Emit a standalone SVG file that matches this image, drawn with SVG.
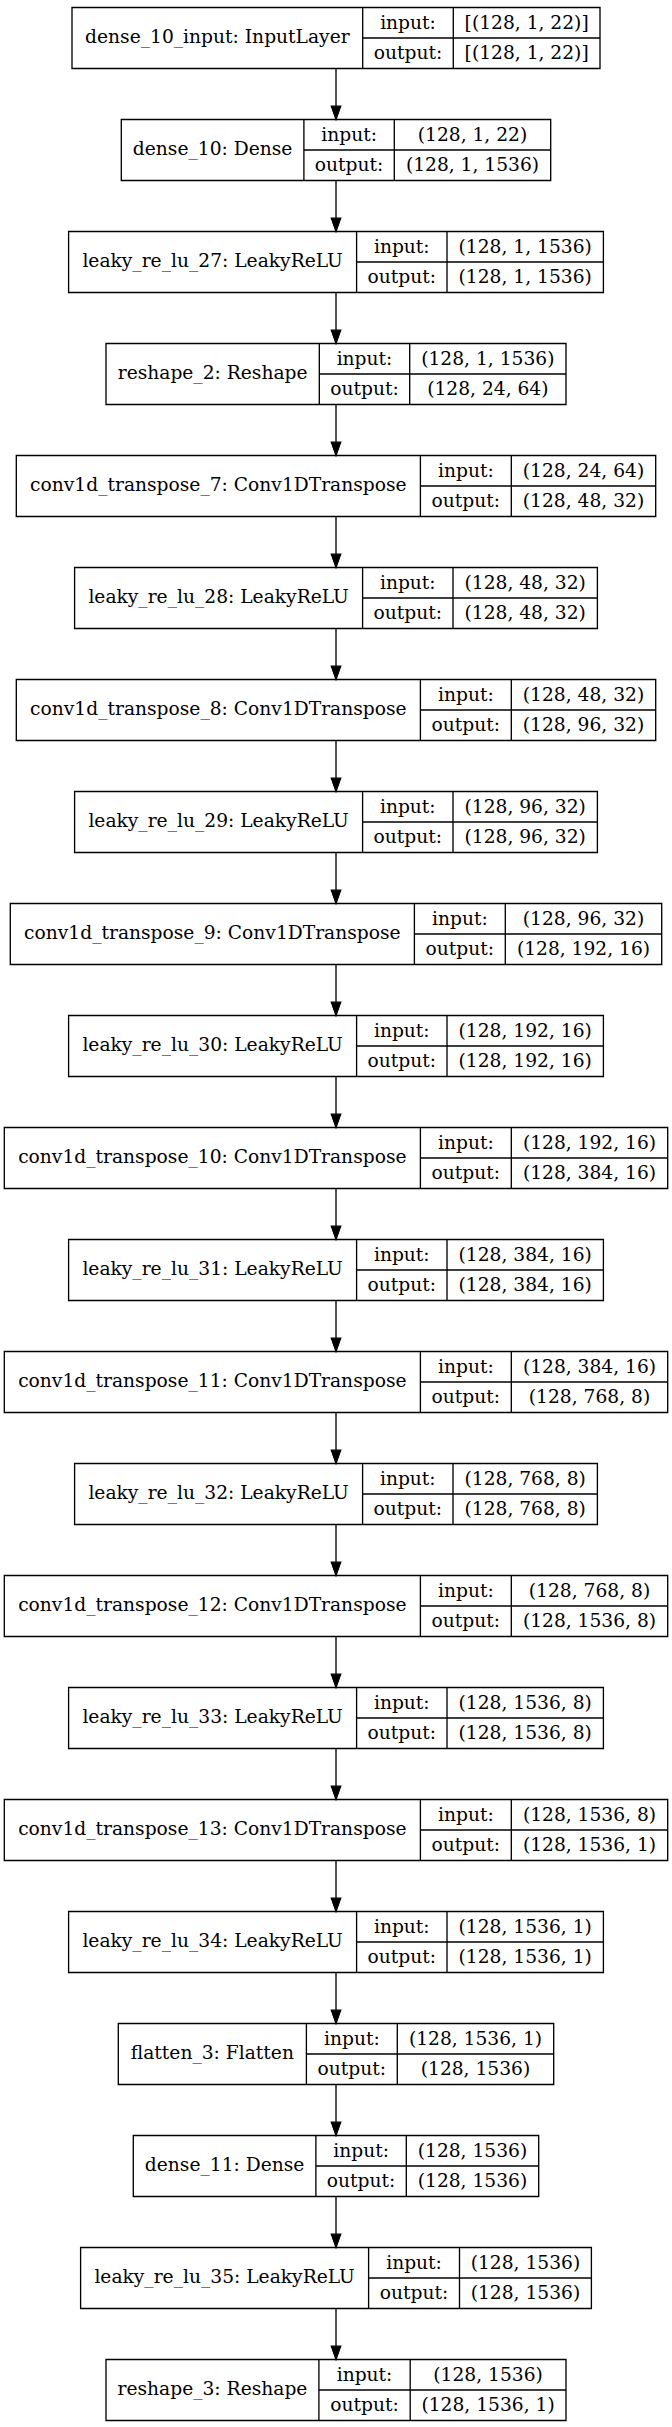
<svg xmlns="http://www.w3.org/2000/svg" width="672" height="2427" viewBox="0 0 672 2427">
<style>
.b{fill:none;stroke:#000;stroke-width:1.33}
text{font-family:"DejaVu Serif","Liberation Serif",serif;font-size:18.67px;fill:#000;text-anchor:middle}
.e{stroke:#000;stroke-width:1.33;fill:none}
</style>
<defs>
<marker id="arr" markerUnits="userSpaceOnUse" markerWidth="14" markerHeight="10" refX="0" refY="4.67" orient="auto" overflow="visible">
<path d="M0,0 L13.3,4.67 L0,9.33 Z" fill="#000" stroke="#000" stroke-width="1.33"/>
</marker>
</defs>
<rect width="672" height="2427" fill="#fff"/>
<g id="connectors">
<line class="e" x1="336" y1="68.5" x2="336" y2="106.2" marker-end="url(#arr)"/>
<line class="e" x1="336" y1="180.5" x2="336" y2="218.2" marker-end="url(#arr)"/>
<line class="e" x1="336" y1="292.5" x2="336" y2="330.2" marker-end="url(#arr)"/>
<line class="e" x1="336" y1="404.5" x2="336" y2="442.2" marker-end="url(#arr)"/>
<line class="e" x1="336" y1="516.5" x2="336" y2="554.2" marker-end="url(#arr)"/>
<line class="e" x1="336" y1="628.5" x2="336" y2="666.2" marker-end="url(#arr)"/>
<line class="e" x1="336" y1="740.5" x2="336" y2="778.2" marker-end="url(#arr)"/>
<line class="e" x1="336" y1="852.5" x2="336" y2="890.2" marker-end="url(#arr)"/>
<line class="e" x1="336" y1="964.5" x2="336" y2="1002.2" marker-end="url(#arr)"/>
<line class="e" x1="336" y1="1076.5" x2="336" y2="1114.2" marker-end="url(#arr)"/>
<line class="e" x1="336" y1="1188.5" x2="336" y2="1226.2" marker-end="url(#arr)"/>
<line class="e" x1="336" y1="1300.5" x2="336" y2="1338.2" marker-end="url(#arr)"/>
<line class="e" x1="336" y1="1412.5" x2="336" y2="1450.2" marker-end="url(#arr)"/>
<line class="e" x1="336" y1="1524.5" x2="336" y2="1562.2" marker-end="url(#arr)"/>
<line class="e" x1="336" y1="1636.5" x2="336" y2="1674.2" marker-end="url(#arr)"/>
<line class="e" x1="336" y1="1748.5" x2="336" y2="1786.2" marker-end="url(#arr)"/>
<line class="e" x1="336" y1="1860.5" x2="336" y2="1898.2" marker-end="url(#arr)"/>
<line class="e" x1="336" y1="1972.5" x2="336" y2="2010.2" marker-end="url(#arr)"/>
<line class="e" x1="336" y1="2084.5" x2="336" y2="2122.2" marker-end="url(#arr)"/>
<line class="e" x1="336" y1="2196.5" x2="336" y2="2234.2" marker-end="url(#arr)"/>
<line class="e" x1="336" y1="2308.5" x2="336" y2="2346.2" marker-end="url(#arr)"/>
</g>
<g id="n1">
<path class="b" d="M72,7.5 H600 V68.5 H72 Z M362.7,7.5 V68.5 M453.3,7.5 V68.5 M362.7,38 H600"/>
<text x="217.35" y="43">dense_10_input: InputLayer</text>
<text x="408" y="28.5">input:</text>
<text x="526.65" y="59">[(128, 1, 22)]</text>
<text x="408" y="59">output:</text>
<text x="526.65" y="28.5">[(128, 1, 22)]</text>
</g>
<g id="n2">
<path class="b" d="M121.3,119.5 H550.7 V180.5 H121.3 Z M303.9,119.5 V180.5 M394.3,119.5 V180.5 M303.9,150 H550.7"/>
<text x="212.6" y="155">dense_10: Dense</text>
<text x="349.1" y="140.5">input:</text>
<text x="472.5" y="140.5">(128, 1, 22)</text>
<text x="349.1" y="171">output:</text>
<text x="472.5" y="171">(128, 1, 1536)</text>
</g>
<g id="n3">
<path class="b" d="M68.6,231.5 H603.4 V292.5 H68.6 Z M356.6,231.5 V292.5 M447,231.5 V292.5 M356.6,262 H603.4"/>
<text x="212.6" y="267">leaky_re_lu_27: LeakyReLU</text>
<text x="401.8" y="252.5">input:</text>
<text x="525.2" y="252.5">(128, 1, 1536)</text>
<text x="401.8" y="283">output:</text>
<text x="525.2" y="283">(128, 1, 1536)</text>
</g>
<g id="n4">
<path class="b" d="M106,343.5 H566 V404.5 H106 Z M319.3,343.5 V404.5 M409.7,343.5 V404.5 M319.3,374 H566"/>
<text x="212.65" y="379">reshape_2: Reshape</text>
<text x="364.5" y="364.5">input:</text>
<text x="487.85" y="364.5">(128, 1, 1536)</text>
<text x="364.5" y="395">output:</text>
<text x="487.85" y="395">(128, 24, 64)</text>
</g>
<g id="n5">
<path class="b" d="M16.3,455.5 H655.7 V516.5 H16.3 Z M420.4,455.5 V516.5 M511.3,455.5 V516.5 M420.4,486 H655.7"/>
<text x="218.35" y="491">conv1d_transpose_7: Conv1DTranspose</text>
<text x="465.85" y="476.5">input:</text>
<text x="583.5" y="476.5">(128, 24, 64)</text>
<text x="465.85" y="507">output:</text>
<text x="583.5" y="507">(128, 48, 32)</text>
</g>
<g id="n6">
<path class="b" d="M74.6,567.5 H597.4 V628.5 H74.6 Z M362.6,567.5 V628.5 M453,567.5 V628.5 M362.6,598 H597.4"/>
<text x="218.6" y="603">leaky_re_lu_28: LeakyReLU</text>
<text x="407.8" y="588.5">input:</text>
<text x="525.2" y="588.5">(128, 48, 32)</text>
<text x="407.8" y="619">output:</text>
<text x="525.2" y="619">(128, 48, 32)</text>
</g>
<g id="n7">
<path class="b" d="M16.3,679.5 H655.7 V740.5 H16.3 Z M420.4,679.5 V740.5 M511.3,679.5 V740.5 M420.4,710 H655.7"/>
<text x="218.35" y="715">conv1d_transpose_8: Conv1DTranspose</text>
<text x="465.85" y="700.5">input:</text>
<text x="583.5" y="700.5">(128, 48, 32)</text>
<text x="465.85" y="731">output:</text>
<text x="583.5" y="731">(128, 96, 32)</text>
</g>
<g id="n8">
<path class="b" d="M74.6,791.5 H597.4 V852.5 H74.6 Z M362.6,791.5 V852.5 M453,791.5 V852.5 M362.6,822 H597.4"/>
<text x="218.6" y="827">leaky_re_lu_29: LeakyReLU</text>
<text x="407.8" y="812.5">input:</text>
<text x="525.2" y="812.5">(128, 96, 32)</text>
<text x="407.8" y="843">output:</text>
<text x="525.2" y="843">(128, 96, 32)</text>
</g>
<g id="n9">
<path class="b" d="M10.3,903.5 H661.7 V964.5 H10.3 Z M414.4,903.5 V964.5 M505.3,903.5 V964.5 M414.4,934 H661.7"/>
<text x="212.35" y="939">conv1d_transpose_9: Conv1DTranspose</text>
<text x="459.85" y="924.5">input:</text>
<text x="583.5" y="924.5">(128, 96, 32)</text>
<text x="459.85" y="955">output:</text>
<text x="583.5" y="955">(128, 192, 16)</text>
</g>
<g id="n10">
<path class="b" d="M68.6,1015.5 H603.4 V1076.5 H68.6 Z M356.6,1015.5 V1076.5 M447,1015.5 V1076.5 M356.6,1046 H603.4"/>
<text x="212.6" y="1051">leaky_re_lu_30: LeakyReLU</text>
<text x="401.8" y="1036.5">input:</text>
<text x="525.2" y="1036.5">(128, 192, 16)</text>
<text x="401.8" y="1067">output:</text>
<text x="525.2" y="1067">(128, 192, 16)</text>
</g>
<g id="n11">
<path class="b" d="M4.3,1127.5 H667.7 V1188.5 H4.3 Z M420.4,1127.5 V1188.5 M511.3,1127.5 V1188.5 M420.4,1158 H667.7"/>
<text x="212.35" y="1163">conv1d_transpose_10: Conv1DTranspose</text>
<text x="465.85" y="1148.5">input:</text>
<text x="589.5" y="1148.5">(128, 192, 16)</text>
<text x="465.85" y="1179">output:</text>
<text x="589.5" y="1179">(128, 384, 16)</text>
</g>
<g id="n12">
<path class="b" d="M68.6,1239.5 H603.4 V1300.5 H68.6 Z M356.6,1239.5 V1300.5 M447,1239.5 V1300.5 M356.6,1270 H603.4"/>
<text x="212.6" y="1275">leaky_re_lu_31: LeakyReLU</text>
<text x="401.8" y="1260.5">input:</text>
<text x="525.2" y="1260.5">(128, 384, 16)</text>
<text x="401.8" y="1291">output:</text>
<text x="525.2" y="1291">(128, 384, 16)</text>
</g>
<g id="n13">
<path class="b" d="M4.3,1351.5 H667.7 V1412.5 H4.3 Z M420.4,1351.5 V1412.5 M511.3,1351.5 V1412.5 M420.4,1382 H667.7"/>
<text x="212.35" y="1387">conv1d_transpose_11: Conv1DTranspose</text>
<text x="465.85" y="1372.5">input:</text>
<text x="589.5" y="1372.5">(128, 384, 16)</text>
<text x="465.85" y="1403">output:</text>
<text x="589.5" y="1403">(128, 768, 8)</text>
</g>
<g id="n14">
<path class="b" d="M74.6,1463.5 H597.4 V1524.5 H74.6 Z M362.6,1463.5 V1524.5 M453,1463.5 V1524.5 M362.6,1494 H597.4"/>
<text x="218.6" y="1499">leaky_re_lu_32: LeakyReLU</text>
<text x="407.8" y="1484.5">input:</text>
<text x="525.2" y="1484.5">(128, 768, 8)</text>
<text x="407.8" y="1515">output:</text>
<text x="525.2" y="1515">(128, 768, 8)</text>
</g>
<g id="n15">
<path class="b" d="M4.3,1575.5 H667.7 V1636.5 H4.3 Z M420.4,1575.5 V1636.5 M511.3,1575.5 V1636.5 M420.4,1606 H667.7"/>
<text x="212.35" y="1611">conv1d_transpose_12: Conv1DTranspose</text>
<text x="465.85" y="1596.5">input:</text>
<text x="589.5" y="1596.5">(128, 768, 8)</text>
<text x="465.85" y="1627">output:</text>
<text x="589.5" y="1627">(128, 1536, 8)</text>
</g>
<g id="n16">
<path class="b" d="M68.6,1687.5 H603.4 V1748.5 H68.6 Z M356.6,1687.5 V1748.5 M447,1687.5 V1748.5 M356.6,1718 H603.4"/>
<text x="212.6" y="1723">leaky_re_lu_33: LeakyReLU</text>
<text x="401.8" y="1708.5">input:</text>
<text x="525.2" y="1708.5">(128, 1536, 8)</text>
<text x="401.8" y="1739">output:</text>
<text x="525.2" y="1739">(128, 1536, 8)</text>
</g>
<g id="n17">
<path class="b" d="M4.3,1799.5 H667.7 V1860.5 H4.3 Z M420.4,1799.5 V1860.5 M511.3,1799.5 V1860.5 M420.4,1830 H667.7"/>
<text x="212.35" y="1835">conv1d_transpose_13: Conv1DTranspose</text>
<text x="465.85" y="1820.5">input:</text>
<text x="589.5" y="1820.5">(128, 1536, 8)</text>
<text x="465.85" y="1851">output:</text>
<text x="589.5" y="1851">(128, 1536, 1)</text>
</g>
<g id="n18">
<path class="b" d="M68.6,1911.5 H603.4 V1972.5 H68.6 Z M356.6,1911.5 V1972.5 M447,1911.5 V1972.5 M356.6,1942 H603.4"/>
<text x="212.6" y="1947">leaky_re_lu_34: LeakyReLU</text>
<text x="401.8" y="1932.5">input:</text>
<text x="525.2" y="1932.5">(128, 1536, 1)</text>
<text x="401.8" y="1963">output:</text>
<text x="525.2" y="1963">(128, 1536, 1)</text>
</g>
<g id="n19">
<path class="b" d="M118.3,2023.5 H553.7 V2084.5 H118.3 Z M306.4,2023.5 V2084.5 M397.3,2023.5 V2084.5 M306.4,2054 H553.7"/>
<text x="212.35" y="2059">flatten_3: Flatten</text>
<text x="351.85" y="2044.5">input:</text>
<text x="475.5" y="2044.5">(128, 1536, 1)</text>
<text x="351.85" y="2075">output:</text>
<text x="475.5" y="2075">(128, 1536)</text>
</g>
<g id="n20">
<path class="b" d="M133.3,2135.5 H538.7 V2196.5 H133.3 Z M315.9,2135.5 V2196.5 M406.3,2135.5 V2196.5 M315.9,2166 H538.7"/>
<text x="224.6" y="2171">dense_11: Dense</text>
<text x="361.1" y="2156.5">input:</text>
<text x="472.5" y="2156.5">(128, 1536)</text>
<text x="361.1" y="2187">output:</text>
<text x="472.5" y="2187">(128, 1536)</text>
</g>
<g id="n21">
<path class="b" d="M80.6,2247.5 H591.4 V2308.5 H80.6 Z M368.6,2247.5 V2308.5 M459.5,2247.5 V2308.5 M368.6,2278 H591.4"/>
<text x="224.6" y="2283">leaky_re_lu_35: LeakyReLU</text>
<text x="414.05" y="2268.5">input:</text>
<text x="525.45" y="2268.5">(128, 1536)</text>
<text x="414.05" y="2299">output:</text>
<text x="525.45" y="2299">(128, 1536)</text>
</g>
<g id="n22">
<path class="b" d="M106,2359.5 H566 V2420.5 H106 Z M318.9,2359.5 V2420.5 M410.2,2359.5 V2420.5 M318.9,2390 H566"/>
<text x="212.45" y="2395">reshape_3: Reshape</text>
<text x="364.55" y="2380.5">input:</text>
<text x="488.1" y="2380.5">(128, 1536)</text>
<text x="364.55" y="2411">output:</text>
<text x="488.1" y="2411">(128, 1536, 1)</text>
</g>
</svg>
